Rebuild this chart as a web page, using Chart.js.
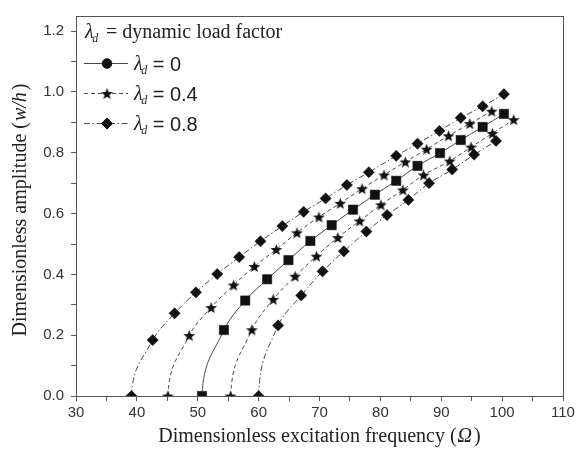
<!DOCTYPE html>
<html>
<head>
<meta charset="utf-8">
<script src="https://cdn.jsdelivr.net/npm/chart.js@4.4.1/dist/chart.umd.min.js"></script>
<style>
html,body{margin:0;padding:0;background:#fff;}
#wrap{position:relative;width:581px;height:454px;}
</style>
</head>
<body>
<div id="wrap"><canvas id="c" width="581" height="454"></canvas></div>
<script>
// ---- data ----
const ld08LeftX = [39.1, 42.6, 46.2, 49.7, 53.2, 56.8, 60.3, 63.9, 67.4, 71.0, 74.5, 78.1, 82.6, 86.1, 89.7, 93.2, 96.8, 100.3];
const ld08LeftY = [0, 0.184, 0.272, 0.341, 0.401, 0.457, 0.509, 0.559, 0.606, 0.650, 0.694, 0.736, 0.790, 0.830, 0.872, 0.915, 0.953, 0.993];
const ld04LeftX = [45.1, 48.6, 52.2, 55.9, 59.3, 62.9, 66.3, 69.9, 73.4, 77.0, 80.6, 84.1, 87.6, 91.2, 94.7, 98.3];
const ld04LeftY = [0, 0.199, 0.291, 0.365, 0.426, 0.482, 0.537, 0.589, 0.634, 0.682, 0.727, 0.770, 0.812, 0.856, 0.896, 0.937];
const ld0X = [50.7, 54.3, 57.8, 61.4, 64.9, 68.5, 72.0, 75.5, 79.1, 82.6, 86.1, 89.8, 93.2, 96.8, 100.3];
const ld0Y = [0, 0.217, 0.314, 0.384, 0.447, 0.510, 0.562, 0.613, 0.662, 0.708, 0.757, 0.799, 0.842, 0.885, 0.928];
const ld04RightX = [55.4, 58.9, 62.4, 66.0, 69.5, 73.0, 76.6, 80.1, 83.7, 87.1, 91.4, 94.9, 98.4, 101.9];
const ld04RightY = [0, 0.218, 0.318, 0.394, 0.460, 0.521, 0.576, 0.629, 0.678, 0.727, 0.773, 0.819, 0.864, 0.909];
const ld08RightX = [60.0, 63.2, 67.0, 70.5, 74.0, 77.7, 81.1, 84.6, 88.0, 91.8, 95.4, 99.0];
const ld08RightY = [0, 0.232, 0.331, 0.410, 0.476, 0.541, 0.595, 0.645, 0.700, 0.745, 0.794, 0.839];

const legendValues = ['0', '0.4', '0.8'];
const xTicks = [30, 35, 40, 45, 50, 55, 60, 65, 70, 75, 80, 85, 90, 95, 100, 105, 110];
const yTicks = [0, 0.1, 0.2, 0.3, 0.4, 0.5, 0.6, 0.7, 0.8, 0.9, 1.0, 1.1, 1.2];
const xTitle = ['Dimensionless excitation frequency (', 'Ω', ')'];
const yTitle = ['Dimensionless amplitude (', 'w/h', ')'];
const legendTitle = '= dynamic load factor';

// ---- styles ----
const LINE = '#4a4a4a';
const MARK = '#111';
const DASH04 = [4, 3];
const DASH08 = [6, 2.5, 1.5, 2.5];

function makeStar(r) {
  const s = Math.ceil(r * 2 + 2);
  const cv = document.createElement('canvas');
  cv.width = s; cv.height = s;
  const g = cv.getContext('2d');
  const cx = s / 2, cy = s / 2 + 0.6, ri = r * 0.42;
  g.beginPath();
  for (let i = 0; i < 10; i++) {
    const rr = i % 2 === 0 ? r : ri;
    const a = -Math.PI / 2 + i * Math.PI / 5;
    const px = cx + rr * Math.cos(a), py = cy + rr * Math.sin(a);
    if (i === 0) g.moveTo(px, py); else g.lineTo(px, py);
  }
  g.closePath();
  g.fillStyle = MARK;
  g.fill();
  return cv;
}
const starImg = makeStar(6.2);

function pts(xs, ys) { return xs.map((x, i) => ({ x: x, y: ys[i] })); }

function ds(xs, ys, dash, style, radius) {
  return {
    data: pts(xs, ys),
    borderColor: LINE,
    borderWidth: 1,
    borderDash: dash,
    backgroundColor: MARK,
    pointBackgroundColor: MARK,
    pointBorderColor: MARK,
    pointBorderWidth: 0.5,
    pointStyle: style,
    pointRadius: radius,
    tension: 0.35,
    fill: false,
  };
}

const datasets = [
  ds(ld08LeftX, ld08LeftY, DASH08, 'rectRot', 5.6),
  ds(ld04LeftX, ld04LeftY, DASH04, starImg, 6),
  ds(ld0X, ld0Y, [], 'rect', 6.6),
  ds(ld04RightX, ld04RightY, DASH04, starImg, 6),
  ds(ld08RightX, ld08RightY, DASH08, 'rectRot', 5.6),
];

const SERIF = '"Liberation Serif", "DejaVu Serif", serif';
const SANS = '"Liberation Sans", Arial, sans-serif';

// make the curve leave the zero point vertically, as in the reference
const curveStart = {
  id: 'curveStart',
  beforeDatasetDraw(chart, args) {
    const meta = args.meta;
    const line = meta.dataset;
    if (!line) return;
    line.updateControlPoints(chart.chartArea, meta.indexAxis || 'x');
    const p = line.points;
    if (p.length < 3) return;
    const p0 = p[0], p1 = p[1], p2 = p[2];
    p0.cp2x = p0.x + 0.08 * (p1.x - p0.x);
    p0.cp2y = p0.y + 0.55 * (p1.y - p0.y);
    const tx = p2.x - p0.x, ty = p2.y - p0.y;
    const len = Math.hypot(tx, ty) || 1;
    const d = Math.hypot(p1.x - p0.x, p1.y - p0.y) * 0.4;
    p1.cp1x = p1.x - tx / len * d;
    p1.cp1y = p1.y - ty / len * d;
    line._path = undefined;
  }
};

const decor = {
  id: 'decor',
  afterDraw(chart) {
    const ctx = chart.ctx;
    const a = chart.chartArea;
    ctx.save();
    ctx.strokeStyle = '#555';
    ctx.lineWidth = 1;
    ctx.setLineDash([]);
    ctx.strokeRect(Math.round(a.left) + 0.5, Math.round(a.top) + 0.5, Math.round(a.right - a.left), Math.round(a.bottom - a.top));

    ctx.fillStyle = '#222';
    ctx.textBaseline = 'alphabetic';
    const f1 = '20px ' + SERIF, f2 = 'italic 20px ' + SERIF;
    ctx.font = f1; const w1 = ctx.measureText(xTitle[0]).width;
    ctx.font = f2; const w2 = ctx.measureText(xTitle[1]).width + 3;
    ctx.font = f1; const w3 = ctx.measureText(xTitle[2]).width;
    let sx = (a.left + a.right) / 2 - (w1 + w2 + w3) / 2;
    const by = 442;
    ctx.font = f1; ctx.fillText(xTitle[0], sx, by);
    ctx.font = f2; ctx.fillText(xTitle[1], sx + w1 + 1, by);
    ctx.font = f1; ctx.fillText(xTitle[2], sx + w1 + w2, by);

    ctx.save();
    ctx.translate(26, (a.top + a.bottom) / 2 + 4);
    ctx.rotate(-Math.PI / 2);
    ctx.font = f1; const v1 = ctx.measureText(yTitle[0]).width;
    ctx.font = f2; const v2 = ctx.measureText(yTitle[1]).width + 3;
    ctx.font = f1; const v3 = ctx.measureText(yTitle[2]).width;
    let sy = -(v1 + v2 + v3) / 2;
    ctx.font = f1; ctx.fillText(yTitle[0], sy, 0);
    ctx.font = f2; ctx.fillText(yTitle[1], sy + v1 + 1, 0);
    ctx.font = f1; ctx.fillText(yTitle[2], sy + v1 + v2, 0);
    ctx.restore();

    function lambdaD(x, y) {
      ctx.font = 'italic 20px ' + SERIF;
      ctx.fillText('λ', x, y);
      const lw = ctx.measureText('λ').width;
      ctx.font = 'italic 12px ' + SERIF;
      ctx.fillText('d', x + lw - 1.5, y + 4);
      return x + lw + 6;
    }
    lambdaD(85, 38);
    ctx.font = '20px ' + SERIF;
    ctx.fillText(legendTitle, 106, 38);

    const rows = [
      { y: 63, dash: [], style: 'circle', r: 4.8 },
      { y: 93, dash: DASH04, style: starImg, r: 6 },
      { y: 123, dash: DASH08, style: 'rectRot', r: 5.6 },
    ];
    rows.forEach((row, i) => {
      ctx.strokeStyle = LINE;
      ctx.lineWidth = 1;
      ctx.setLineDash(row.dash);
      ctx.beginPath();
      ctx.moveTo(84, row.y + 0.5);
      ctx.lineTo(128, row.y + 0.5);
      ctx.stroke();
      ctx.setLineDash([]);
      ctx.fillStyle = MARK;
      ctx.strokeStyle = MARK;
      Chart.helpers.drawPoint(ctx, { pointStyle: row.style, radius: row.r, rotation: 0, borderWidth: 0.5 }, 107, row.y + 0.5);
      ctx.fillStyle = '#222';
      const nx = lambdaD(134, row.y + 7);
      ctx.font = '20px ' + SANS;
      ctx.fillText('= ' + legendValues[i], nx + 4, row.y + 8);
    });
    ctx.restore();
  }
};

new Chart(document.getElementById('c'), {
  type: 'line',
  data: { datasets: datasets },
  options: {
    responsive: false,
    animation: false,
    devicePixelRatio: 1,
    layout: { padding: { top: 8, right: 18, left: 0, bottom: 0 } },
    plugins: { legend: { display: false }, tooltip: { enabled: false } },
    scales: {
      x: {
        type: 'linear',
        min: 30, max: 110,
        afterBuildTicks: (s) => { s.ticks = xTicks.map(v => ({ value: v })); },
        afterFit: (s) => { s.height = 58; },
        ticks: {
          color: '#333',
          font: { family: SANS, size: 15 },
          padding: 3,
          maxRotation: 0,
          autoSkip: false,
          callback: (v) => (v % 10 === 0 ? String(v) : ''),
        },
        grid: { display: true, drawOnChartArea: false, drawTicks: true, tickLength: 5, color: '#555', tickColor: '#555' },
        border: { display: true, color: '#555', width: 1 },
      },
      y: {
        type: 'linear',
        min: 0, max: 1.25,
        afterBuildTicks: (s) => { s.ticks = yTicks.map(v => ({ value: v })); },
        afterFit: (s) => { s.width = 76; },
        ticks: {
          color: '#333',
          font: { family: SANS, size: 15 },
          padding: 7,
          autoSkip: false,
          callback: (v) => (Math.round(v * 10) % 2 === 0 ? v.toFixed(1) : ''),
        },
        grid: { display: true, drawOnChartArea: false, drawTicks: true, tickLength: 5, color: '#555', tickColor: '#555' },
        border: { display: true, color: '#555', width: 1 },
      },
    },
  },
  plugins: [curveStart, decor],
});
</script>
</body>
</html>
